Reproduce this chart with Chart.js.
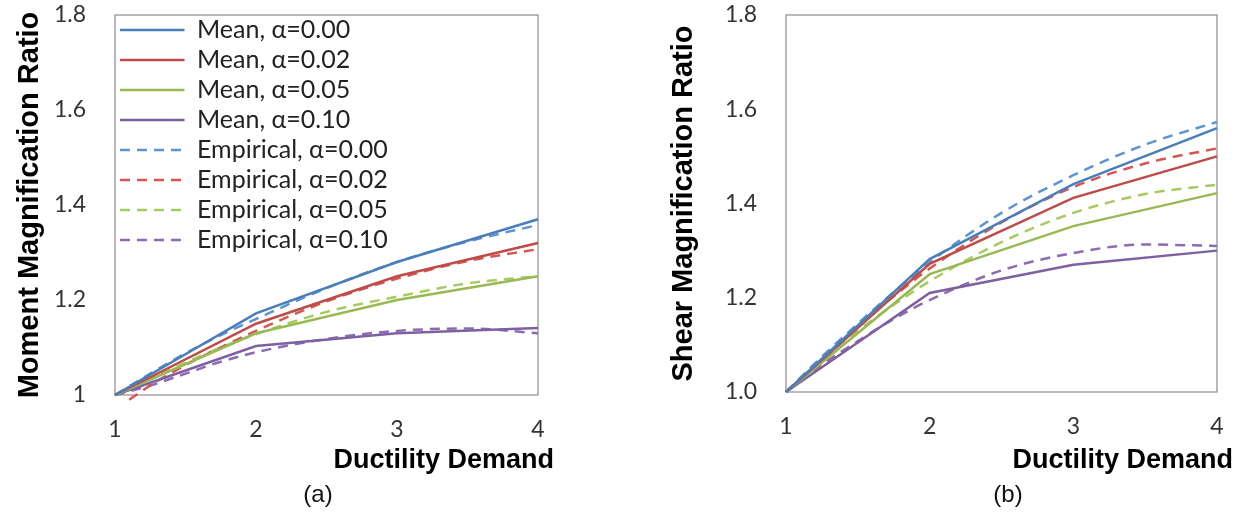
<!DOCTYPE html>
<html><head><meta charset="utf-8">
<script src="https://cdn.jsdelivr.net/npm/chart.js@4.4.1/dist/chart.umd.min.js"></script>
<style>
html,body{margin:0;padding:0;background:#fff;width:1242px;height:521px;overflow:hidden;}
.panel{position:absolute;top:0;height:470px;}
#pa{left:0;width:620px;}
#pb{left:620px;width:622px;}
.cap{position:absolute;top:480px;font-family:'Liberation Sans',Arial,sans-serif;font-size:24px;line-height:28px;color:#111;transform:translateX(-50%);}
.xt{position:absolute;top:443px;font-family:'Liberation Sans',Arial,sans-serif;font-weight:bold;font-size:27px;line-height:32px;color:#000;white-space:nowrap;transform:translateX(-100%);}
</style></head><body>
<div class="panel" id="pa"><canvas id="ca"></canvas></div>
<div class="panel" id="pb"><canvas id="cb"></canvas></div>
<div class="xt" style="left:554px">Ductility Demand</div>
<div class="xt" style="left:1233px">Ductility Demand</div>
<div class="cap" style="left:318px">(a)</div>
<div class="cap" style="left:1008px">(b)</div>
<script>
// ---- data ----
const xMean = [1, 2, 3, 4];
const xEmp = [1, 1.25, 1.5, 1.75, 2, 2.5, 3, 3.5, 4];
const xEmpMomentRed = [1.1, 1.25, 1.5, 1.75, 2, 2.5, 3, 3.5, 4];
const seriesLabels = ['Mean, α=0.00','Mean, α=0.02','Mean, α=0.05','Mean, α=0.10',
                      'Empirical, α=0.00','Empirical, α=0.02','Empirical, α=0.05','Empirical, α=0.10'];
const xTickLabels = ['1','2','3','4'];
const yTicksMoment = ['1','1.2','1.4','1.6','1.8'];
const yTicksShear = ['1.0','1.2','1.4','1.6','1.8'];

// (a) Moment magnification ratio
const momentMean000 = [1.00, 1.172, 1.28, 1.37];
const momentMean002 = [1.00, 1.15, 1.25, 1.32];
const momentMean005 = [1.00, 1.13, 1.20, 1.25];
const momentMean010 = [1.00, 1.103, 1.13, 1.141];
const momentEmp000 = [1.00, 1.045, 1.088, 1.126, 1.16, 1.225, 1.28, 1.323, 1.358];
const momentEmp002 = [0.99, 1.02, 1.063, 1.10, 1.135, 1.197, 1.245, 1.282, 1.307];
const momentEmp005 = [1.00, 1.035, 1.068, 1.10, 1.128, 1.175, 1.207, 1.235, 1.25];
const momentEmp010 = [1.00, 1.02, 1.045, 1.07, 1.09, 1.118, 1.135, 1.14, 1.13];

// (b) Shear magnification ratio
const shearMean000 = [1.00, 1.282, 1.441, 1.56];
const shearMean002 = [1.00, 1.272, 1.412, 1.50];
const shearMean005 = [1.00, 1.25, 1.352, 1.422];
const shearMean010 = [1.00, 1.21, 1.27, 1.30];
const shearEmp000 = [1.00, 1.075, 1.145, 1.212, 1.275, 1.38, 1.46, 1.525, 1.573];
const shearEmp002 = [1.00, 1.073, 1.14, 1.203, 1.262, 1.36, 1.435, 1.485, 1.517];
const shearEmp005 = [1.00, 1.068, 1.13, 1.185, 1.235, 1.318, 1.38, 1.42, 1.44];
const shearEmp010 = [1.00, 1.058, 1.108, 1.155, 1.195, 1.258, 1.295, 1.313, 1.31];

const solidColors = ['#4A7EBB', '#BE4B48', '#98B954', '#7D60A0'];
const dashColors = ['#5B93D3', '#D45652', '#A6CB5F', '#8C6BB3'];

function pts(xs, ys) { return xs.map((x, i) => ({x: x, y: ys[i]})); }

function makeDatasets(means, emps, empXs) {
  const ds = [];
  means.forEach((m, i) => ds.push({
    label: seriesLabels[i], data: pts(xMean, m), borderColor: solidColors[i],
    backgroundColor: solidColors[i], borderWidth: 2.5, pointRadius: 0, tension: 0, clip: 8
  }));
  emps.forEach((e, i) => ds.push({
    label: seriesLabels[4 + i], data: pts(empXs[i], e), borderColor: dashColors[i],
    backgroundColor: dashColors[i], borderWidth: 2.5, borderDash: [10, 7], pointRadius: 0,
    cubicInterpolationMode: 'monotone', clip: 8
  }));
  return ds;
}

const frame = {
  id: 'frame',
  beforeDatasetsDraw(chart) {
    const a = chart.chartArea, c = chart.ctx;
    c.save(); c.strokeStyle = '#8c8c8c'; c.lineWidth = 1.2;
    c.strokeRect(a.left, a.top, a.right - a.left, a.bottom - a.top);
    c.restore();
  }
};

const tickFont = {family: 'Lato, "Liberation Sans", sans-serif', size: 23};
const yTitleFont = {family: '"Liberation Sans", Arial, sans-serif', size: 29, weight: 'bold'};

function makeOptions(yLabels, yTitle, yWidth, xHeight, titlePadTop, padRight, showLegend) {
  return {
    responsive: true, maintainAspectRatio: false, animation: false,
    layout: {padding: {left: 0, top: 15, right: padRight, bottom: 0}},
    plugins: {
      tooltip: {enabled: false},
      legend: showLegend ? {
        display: true, position: 'chartArea', align: 'start',
        title: {display: true, text: '', padding: 0, font: {size: 10, lineHeight: 1.25}},
        labels: {usePointStyle: false, boxWidth: 64.5, boxHeight: 0,
                 font: {family: 'Lato, "Liberation Sans", sans-serif', size: 25},
                 color: '#222', padding: 5}
      } : {display: false}
    },
    scales: {
      x: {
        type: 'linear', min: 1, max: 4,
        afterFit(s) { s.height = xHeight; s.paddingLeft = 0; s.paddingRight = 0; },
        grid: {display: false}, border: {display: false},
        ticks: {stepSize: 1, font: tickFont, color: '#333', padding: 13, maxRotation: 0,
                callback: (v, i) => xTickLabels[i]}
      },
      y: {
        type: 'linear', min: 1, max: 1.8,
        afterFit(s) { s.width = yWidth; s.paddingTop = 0; s.paddingBottom = 0; },
        grid: {display: false}, border: {display: false},
        ticks: {stepSize: 0.2, font: tickFont, color: '#333', padding: 21,
                callback: (v, i) => yLabels[i]},
        title: {display: true, text: yTitle, font: yTitleFont, color: '#000',
                padding: {top: titlePadTop, bottom: 0}}
      }
    }
  };
}

new Chart(document.getElementById('ca'), {
  type: 'line',
  data: {datasets: makeDatasets(
    [momentMean000, momentMean002, momentMean005, momentMean010],
    [momentEmp000, momentEmp002, momentEmp005, momentEmp010],
    [xEmp, xEmpMomentRed, xEmp, xEmp])},
  options: makeOptions(yTicksMoment, 'Moment Magnification Ratio', 115, 75, 12.6, 82, true),
  plugins: [frame]
});

new Chart(document.getElementById('cb'), {
  type: 'line',
  data: {datasets: makeDatasets(
    [shearMean000, shearMean002, shearMean005, shearMean010],
    [shearEmp000, shearEmp002, shearEmp005, shearEmp010],
    [xEmp, xEmp, xEmp, xEmp])},
  options: makeOptions(yTicksShear, 'Shear Magnification Ratio', 166, 78, 47, 25, false),
  plugins: [frame]
});
</script>
</body></html>
